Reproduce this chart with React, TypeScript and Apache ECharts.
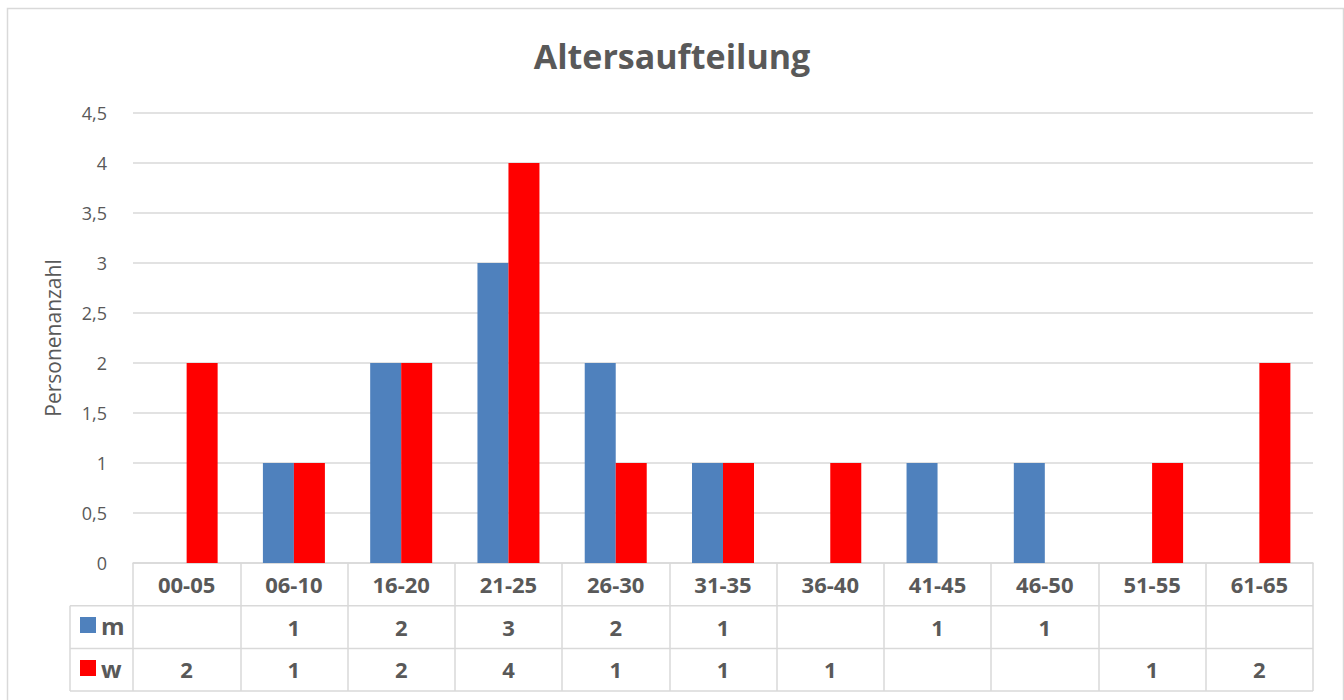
import React, { useEffect, useRef } from "react";
import * as echarts from "echarts";

const categories = ["00-05", "06-10", "16-20", "21-25", "26-30", "31-35", "36-40", "41-45", "46-50", "51-55", "61-65"];
const mValues: (number | null)[] = [null, 1, 2, 3, 2, 1, null, 1, 1, null, null];
const wValues: (number | null)[] = [2, 1, 2, 4, 1, 1, 1, null, null, 1, 2];
const yTicks = { min: 0, max: 4.5, interval: 0.5 };

const FONT = "'Open Sans', Lato, sans-serif";
const TXT = "#595959";
const LINE = "#d9d9d9";

export default function App() {
  const ref = useRef<HTMLDivElement>(null);
  useEffect(() => {
    const chart = echarts.init(ref.current!, null, { renderer: "svg" });
    const gridLeft = 133, gridRight = 1313, gridTop = 113, gridBottom = 563;
    const rowH = 42.7;
    const tableLeft = 70;
    const tableAxis = (offset: number, vals: (number | null)[] | null, show: boolean) => ({
      type: "category",
      data: categories,
      position: "bottom",
      offset,
      gridIndex: 0,
      axisLine: show ? { show: true, lineStyle: { color: LINE, width: 1.5 } } : { show: false },
      axisTick: show
        ? { show: true, length: rowH * 3, lineStyle: { color: LINE, width: 1.5 } }
        : { show: false },
      axisLabel: {
        interval: 0,
        margin: 10,
        color: TXT,
        fontFamily: FONT,
        fontSize: 22,
        fontWeight: "bold",
        lineHeight: 22,
        formatter: vals
          ? (_v: string, i: number) => (vals[i] == null ? "" : String(vals[i]))
          : undefined,
      },
      splitLine: { show: false },
    });
    chart.setOption({
      animation: false,
      backgroundColor: "#ffffff",
      textStyle: { fontFamily: FONT },
      title: {
        text: "Altersaufteilung",
        left: "center",
        top: 34,
        textStyle: { color: TXT, fontSize: 34, fontWeight: "bold", fontFamily: FONT, lineHeight: 34 },
      },
      legend: {
        orient: "vertical",
        left: 80,
        top: 613,
        padding: 0,
        itemWidth: 16,
        itemHeight: 16,
        itemGap: 19,
        icon: "rect",
        textStyle: { color: TXT, fontSize: 24, fontWeight: "bold", fontFamily: FONT, lineHeight: 24 },
        data: ["m", "w"],
        selectedMode: false,
      },
      grid: {
        left: gridLeft,
        right: 1344 - gridRight,
        top: gridTop,
        bottom: 700 - gridBottom,
        containLabel: false,
      },
      xAxis: [
        tableAxis(0, null, true),
        tableAxis(rowH, mValues, false),
        tableAxis(rowH * 2, wValues, false),
      ],
      yAxis: {
        type: "value",
        min: yTicks.min,
        max: yTicks.max,
        interval: yTicks.interval,
        name: "Personenanzahl",
        nameLocation: "middle",
        nameGap: 70,
        nameTextStyle: { color: TXT, fontSize: 21, fontFamily: FONT },
        axisLine: { show: false },
        axisTick: { show: false },
        axisLabel: {
          color: TXT,
          fontSize: 18,
          fontFamily: FONT,
          margin: 26,
          formatter: (v: number) => String(v).replace(".", ","),
        },
        splitLine: { lineStyle: { color: LINE, width: 1.5 } },
      },
      series: [
        {
          name: "m",
          type: "bar",
          xAxisIndex: 0,
          data: mValues,
          barWidth: 31,
          barGap: "0%",
          itemStyle: { color: "#4F81BD" },
        },
        {
          name: "w",
          type: "bar",
          xAxisIndex: 0,
          data: wValues,
          barWidth: 31,
          barGap: "0%",
          itemStyle: { color: "#FF0000" },
        },
      ],
      graphic: [
        {
          type: "rect",
          left: 5,
          top: 6,
          shape: { width: 1336, height: 700 },
          style: { fill: "none", stroke: LINE, lineWidth: 1.5 },
          silent: true,
        },
        ...[1, 2, 3].map((k) => ({
          type: "line",
          shape: { x1: tableLeft, y1: gridBottom + rowH * k, x2: gridRight, y2: gridBottom + rowH * k },
          style: { stroke: LINE, lineWidth: 1.5 },
          silent: true,
        })),
        {
          type: "line",
          shape: { x1: tableLeft, y1: gridBottom + rowH, x2: tableLeft, y2: gridBottom + rowH * 3 },
          style: { stroke: LINE, lineWidth: 1.5 },
          silent: true,
        },
      ],
    });
    return () => chart.dispose();
  }, []);
  return (
    <div
      ref={ref}
      style={{ position: "fixed", left: 0, top: 0, width: 1344, height: 700, background: "#fff" }}
    />
  );
}
